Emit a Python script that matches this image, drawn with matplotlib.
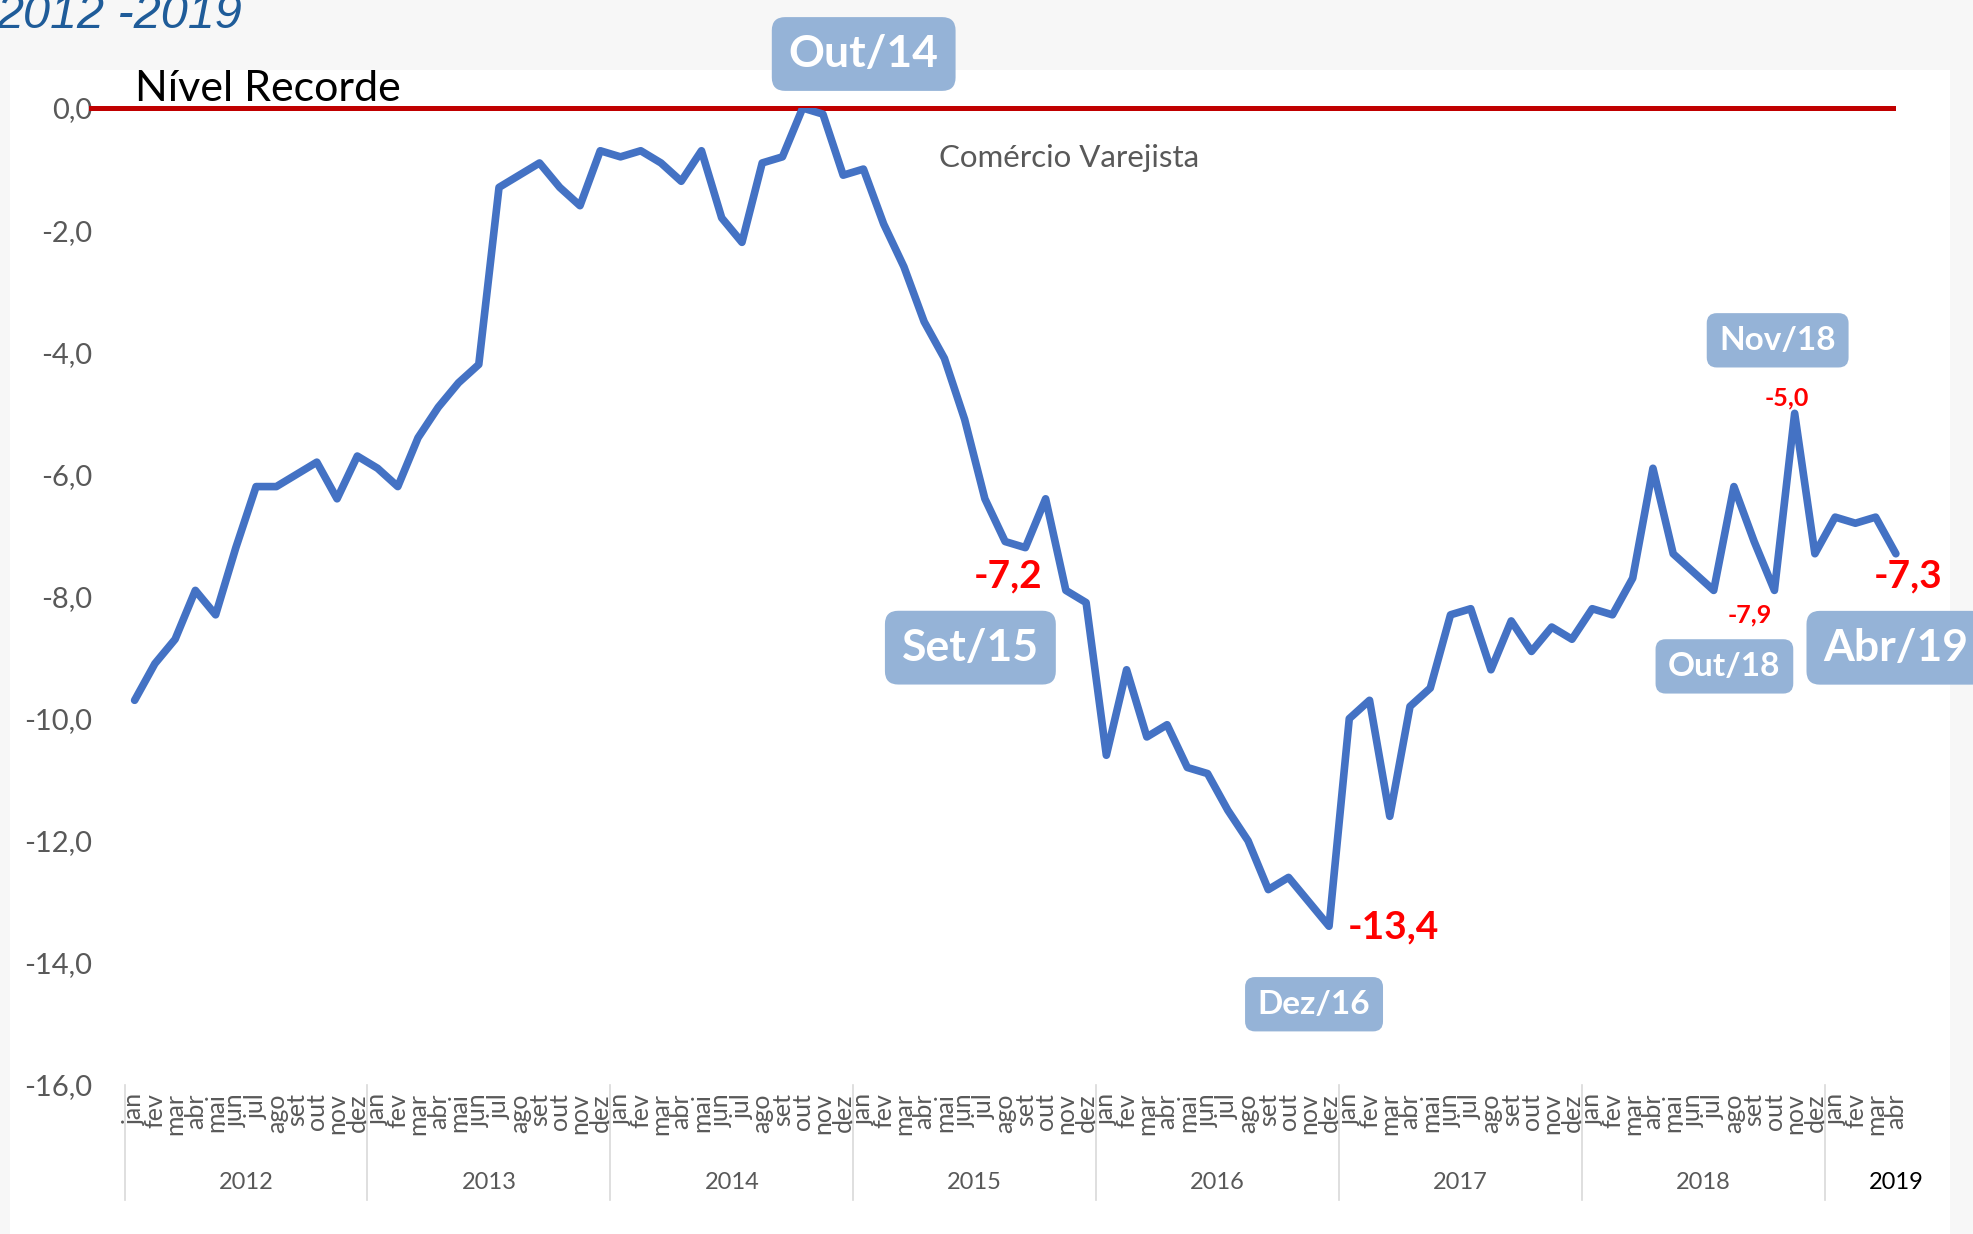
import matplotlib
matplotlib.use('Agg')
import matplotlib.pyplot as plt
from matplotlib.patches import Rectangle
import matplotlib.transforms as mtransforms

plt.rcParams['font.family'] = ['Lato', 'DejaVu Sans']

# data
meses = ['jan', 'fev', 'mar', 'abr', 'mai', 'jun', 'jul', 'ago', 'set', 'out', 'nov', 'dez']
anos = ['2012', '2013', '2014', '2015', '2016', '2017', '2018', '2019']
valores = [
    -9.7, -9.1, -8.7, -7.9, -8.3, -7.2, -6.2, -6.2, -6.0, -5.8, -6.4, -5.7,      # 2012
    -5.9, -6.2, -5.4, -4.9, -4.5, -4.2, -1.3, -1.1, -0.9, -1.3, -1.6, -0.7,      # 2013
    -0.8, -0.7, -0.9, -1.2, -0.7, -1.8, -2.2, -0.9, -0.8, 0.0, -0.1, -1.1,       # 2014
    -1.0, -1.9, -2.6, -3.5, -4.1, -5.1, -6.4, -7.1, -7.2, -6.4, -7.9, -8.1,      # 2015
    -10.6, -9.2, -10.3, -10.1, -10.8, -10.9, -11.5, -12.0, -12.8, -12.6, -13.0, -13.4,  # 2016
    -10.0, -9.7, -11.6, -9.8, -9.5, -8.3, -8.2, -9.2, -8.4, -8.9, -8.5, -8.7,    # 2017
    -8.2, -8.3, -7.7, -5.9, -7.3, -7.6, -7.9, -6.2, -7.1, -7.9, -5.0, -7.3,      # 2018
    -6.7, -6.8, -6.7, -7.3,                                                       # 2019
]
rotulos_x = [meses[i % 12] for i in range(len(valores))]
yticks = [0, -2, -4, -6, -8, -10, -12, -14, -16]

# destaques: (indice, caixa, valor, offset caixa, offset valor, fonte caixa, fonte valor)
destaques = [
    (33, 'Out/14', None, (61, 54), None, 32, None),
    (44, 'Set/15', '-7,2', (-55, -100), (-17, -28), 32, 28),
    (59, 'Dez/16', '-13,4', (-15, -78), (64, -1), 24, 28),
    (82, 'Nov/18', '-5,0', (-17, 73), (-8, 15), 24, 18),
    (81, 'Out/18', '-7,9', (-50, -76), (-25, -25), 24, 18),
    (87, 'Abr/19', '-7,3', (0, -94), (12, -22), 32, 28),
]

fig = plt.figure(figsize=(19.73, 12.34), dpi=100)
fig.patch.set_facecolor('#f7f7f7')
fig.patches.append(Rectangle((10 / 1973, 0), 1940 / 1973, 1 - 70 / 1234,
                             transform=fig.transFigure, facecolor='white',
                             edgecolor='none', zorder=0))

ax = fig.add_axes([124.5 / 1973, 1 - 1085 / 1234, 1781.5 / 1973, 977 / 1234])
ax.set_zorder(2)
ax.patch.set_alpha(0)

x = list(range(len(valores)))
ax.plot(x, valores, color='#4472C4', lw=5.5, solid_joinstyle='round',
        solid_capstyle='round', zorder=3)

ax.set_xlim(-0.5, len(valores) - 0.5)
ax.set_ylim(-16, 0)
for s in ax.spines.values():
    s.set_visible(False)

ax.set_yticks(yticks)
ax.set_yticklabels([('%.1f' % v).replace('.', ',') for v in yticks])
ax.tick_params(axis='y', length=0, pad=23, labelsize=21, labelcolor='#595959')
ax.set_xticks(x)
ax.set_xticklabels(rotulos_x, rotation=90, va='top', ha='center')
ax.tick_params(axis='x', length=0, pad=6, labelsize=18, labelcolor='#595959')

# linha de recorde
ax.axhline(0, xmin=-0.019, xmax=0.9925, color='#C00000', lw=3.6, clip_on=False, zorder=2)
ax.text(0.0, 0.0, 'Nível Recorde', fontsize=31, color='black', ha='left', va='bottom')

ax.text(0.53, 0.949, 'Comércio Varejista', transform=ax.transAxes, fontsize=22.5,
        color='#595959', ha='center', va='center')

# separadores de ano
trans = mtransforms.blended_transform_factory(ax.transData, ax.transAxes)
for k in range(len(anos)):
    xs = 12 * k - 0.5
    ax.plot([xs, xs], [0, -0.118], transform=trans, color='#d9d9d9', lw=1.2, clip_on=False)
    ini = 12 * k
    fim = min(12 * k + 11, len(valores) - 1)
    if anos[k] == '2019':
        ax.text(fim, -0.1, anos[k], transform=trans, fontsize=17, color='black',
                ha='center', va='center')
    else:
        ax.text((ini + fim) / 2, -0.1, anos[k], transform=trans, fontsize=17,
                color='#595959', ha='center', va='center')

for idx, caixa, rot, off_c, off_v, fc, fv in destaques:
    ax.annotate(caixa, xy=(idx, valores[idx]), xytext=off_c, textcoords='offset pixels',
                ha='center', va='center', fontsize=fc, fontweight='bold', color='white',
                annotation_clip=False, zorder=5,
                bbox=dict(boxstyle='round,pad=0.38,rounding_size=0.3', fc='#95B3D7', ec='none'))
    if rot:
        ax.annotate(rot, xy=(idx, valores[idx]), xytext=off_v, textcoords='offset pixels',
                    ha='center', va='center', fontsize=fv, fontweight='bold', color='#FF0000',
                    annotation_clip=False, zorder=5)

fig.text(-0.002, 1 - 28 / 1234, '2012 -2019', fontsize=35, style='italic',
         family='Liberation Sans', color='#1F5C99', ha='left', va='baseline')

fig.savefig('out.png', dpi=100, facecolor=fig.get_facecolor())
